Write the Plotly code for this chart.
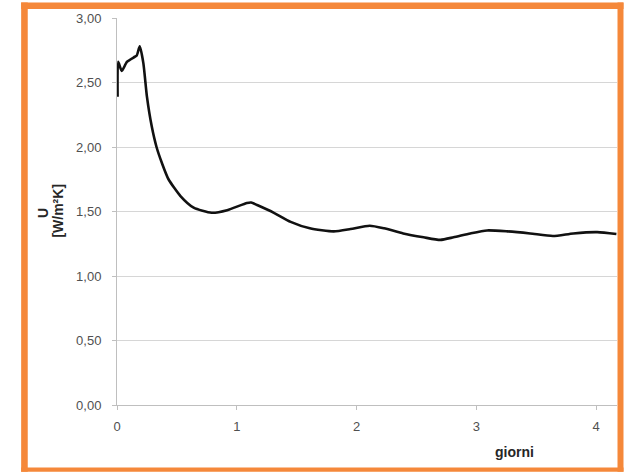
import plotly.graph_objects as go

# Data
giorni = [0.005, 0.01, 0.04, 0.083, 0.15, 0.165, 0.19, 0.22, 0.25, 0.29, 0.33, 0.375,
          0.43, 0.53, 0.64, 0.79, 0.92, 1.085, 1.12, 1.17, 1.31, 1.45, 1.61, 1.81, 1.95,
          2.11, 2.23, 2.39, 2.56, 2.70, 2.81, 2.95, 3.09, 3.26, 3.45, 3.64, 3.81, 4.01, 4.17]
U = [2.39, 2.66, 2.59, 2.66, 2.70, 2.71, 2.78, 2.65, 2.39, 2.16, 2.00, 1.876,
     1.75, 1.62, 1.53, 1.49, 1.51, 1.566, 1.57, 1.55, 1.49, 1.42, 1.37, 1.346, 1.364,
     1.39, 1.37, 1.33, 1.30, 1.28, 1.30, 1.33, 1.353, 1.346, 1.33, 1.31, 1.33, 1.34, 1.325]

x_ticks = [0, 1, 2, 3, 4]
y_ticks = [0, 0.5, 1.0, 1.5, 2.0, 2.5, 3.0]

W, H = 629, 472
L, R, T, B = 116.7, 617.5, 18.3, 405.3
ml, mr, mt, mb = L, W - R, T, H - B
pw, ph = R - L, B - T

def px(x):
    return (x - L) / pw

def py(y):
    return (B - y) / ph

fig = go.Figure()
fig.add_trace(go.Scatter(x=giorni, y=U, mode="lines",
                         line=dict(color="#111111", width=2.6, shape="spline", smoothing=0.6),
                         showlegend=False, hoverinfo="skip"))

orange = "#F5883A"
frame = [
    (20.7, 2.7, 27.3, 472),
    (20.7, 2.7, 624, 9.3),
    (618, 2.7, 624, 472),
    (20.7, 467.7, 624, 472),
]
shapes = []
for x0, y0, x1, y1 in frame:
    shapes.append(dict(type="rect", xref="paper", yref="paper",
                       x0=px(x0), x1=px(x1), y0=py(y1), y1=py(y0),
                       fillcolor=orange, line=dict(width=0), layer="above"))

tick_font = dict(family="Liberation Sans", size=13, color="#505050")
title_font = dict(family="Liberation Sans", size=14, color="#262626")

fig.update_layout(
    width=W, height=H,
    margin=dict(l=ml, r=mr, t=mt, b=mb, pad=0),
    paper_bgcolor="white", plot_bgcolor="white",
    separators=",.",
    shapes=shapes,
    xaxis=dict(range=[0, 4.175], tickvals=x_ticks, showgrid=False, zeroline=False,
               showline=True, linecolor="#BFBFBF", linewidth=1,
               ticks="outside", ticklen=4, tickcolor="#BFBFBF",
               tickfont=tick_font, ticklabelstandoff=5),
    yaxis=dict(range=[0, 3], tickvals=y_ticks, tickformat=".2f",
               showgrid=True, gridcolor="#D6D6D6", gridwidth=1, zeroline=False,
               showline=True, linecolor="#BFBFBF", linewidth=1,
               ticks="outside", ticklen=4, tickcolor="#BFBFBF",
               tickfont=tick_font, ticklabelstandoff=8),
    annotations=[
        dict(text="<b>giorni</b>", xref="paper", yref="paper", x=px(515), y=py(452),
             showarrow=False, font=title_font, xanchor="center", yanchor="middle"),
        dict(text="<b>U</b>", xref="paper", yref="paper", x=px(42), y=py(213),
             showarrow=False, textangle=-90, font=title_font,
             xanchor="center", yanchor="middle"),
        dict(text="<b>[W/m²K]</b>", xref="paper", yref="paper", x=px(57.5), y=py(211),
             showarrow=False, textangle=-90, font=title_font,
             xanchor="center", yanchor="middle"),
    ],
)

fig.write_html("out.html")
